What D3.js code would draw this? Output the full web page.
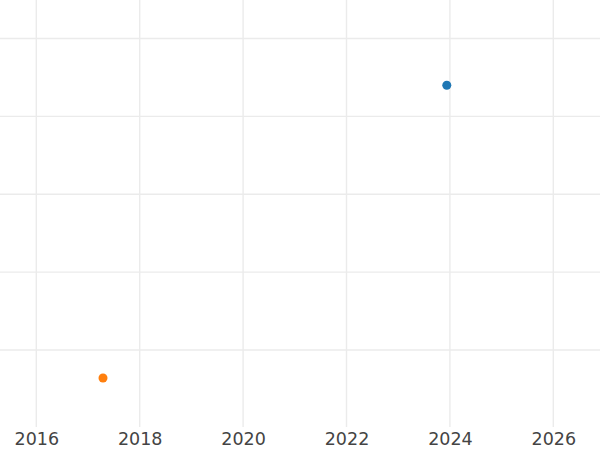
<!DOCTYPE html>
<html>
<head>
<meta charset="utf-8">
<script src="https://cdn.jsdelivr.net/npm/d3@7"></script>
<style>
  body { margin: 0; background: #fff; }
  svg { display: block; }
</style>
</head>
<body>
<svg class="chart"></svg>
<script>
// values (y has no labels, so an arbitrary unit)
const seriesNames = ["a", "b"]
const seriesColors = ["#1f77b4", "#ff7f0e"]
const xYears = [2023.94, 2017.29]
const yValues = [4.40, 0.64]
const xTicks = [2016, 2018, 2020, 2022, 2024, 2026]
const yTicks = [1, 2, 3, 4, 5]

const width = 600, height = 450
const plotBottom = 427

let x = d3.scaleLinear()
    .domain([2016, 2026])
    .range([36.3, 553.3]);
let y = d3.scaleLinear()
    .domain([1, 5])
    .range([350, 38.5]);

let chart = d3.select(".chart")
    .attr("width", width)
    .attr("height", height);

// grid
chart.append("g").selectAll("line")
    .data(yTicks)
  .enter().append("line")
    .attr("x1", 0)
    .attr("x2", width)
    .attr("y1", d => y(d))
    .attr("y2", d => y(d))
    .attr("stroke", "#ebebeb")
    .attr("stroke-width", 1.4);

chart.append("g").selectAll("line")
    .data(xTicks)
  .enter().append("line")
    .attr("x1", d => x(d))
    .attr("x2", d => x(d))
    .attr("y1", 0)
    .attr("y2", plotBottom)
    .attr("stroke", "#ebebeb")
    .attr("stroke-width", 1.4);

// x axis labels only, no domain line or ticks
let xAxis = d3.axisBottom(x)
    .tickValues(xTicks)
    .tickFormat(d3.format("d"))
    .tickSize(0)
    .tickPadding(6);

let gx = chart.append("g")
    .attr("transform", "translate(0," + plotBottom + ")")
    .call(xAxis);
gx.select(".domain").remove();
gx.selectAll("text")
    .attr("font-family", "DejaVu Sans, sans-serif")
    .attr("font-size", 17.5)
    .attr("fill", "#444");

// points
chart.append("g").selectAll("circle")
    .data(seriesNames)
  .enter().append("circle")
    .attr("cx", (d, i) => x(xYears[i]))
    .attr("cy", (d, i) => y(yValues[i]))
    .attr("r", 4.5)
    .attr("fill", (d, i) => seriesColors[i]);
</script>
</body>
</html>
